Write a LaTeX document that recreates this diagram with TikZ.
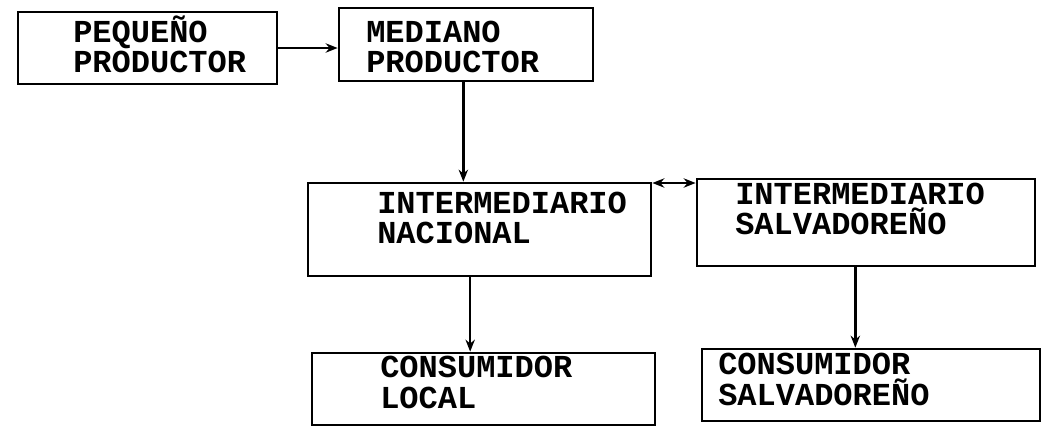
\documentclass[tikz,border=0pt]{standalone}
\usepackage{fontspec}
\setmonofont{Liberation Mono}
\usetikzlibrary{fit,arrows.meta}
\begin{document}
\begin{tikzpicture}[x=0.75pt,y=-0.75pt,
  box/.style={draw,line width=2pt,inner sep=0pt,rectangle},
  lbl/.style={anchor=base west,inner sep=0pt,align=left},
  fs/.style={font=\ttfamily\bfseries\fontsize{24}{#1}\selectfont},
  arr/.style={line width=1.8pt,-{Stealth[length=9pt,width=7pt]}},
  darr/.style={line width=1.8pt,{Stealth[length=9pt,width=7pt]}-{Stealth[length=9pt,width=7pt]}}]
\useasboundingbox (0,0) rectangle (1051,436);
% boxes
\node[box,fit={(18,12)(277,84)}] (b1) {};
\node[box,fit={(339,8)(593,81)}] (b2) {};
\node[box,fit={(308,183)(651,276)}] (b3) {};
\node[box,fit={(697,179)(1035,266)}] (b4) {};
\node[box,fit={(312,353)(655,425)}] (b5) {};
\node[box,fit={(702,349)(1040,421)}] (b6) {};
% labels (anchor = baseline of the last line)
\node[lbl,fs=22.5pt] (t1) at (73,72) {PEQUEÑO\\PRODUCTOR};
\node[lbl,fs=22.5pt] (t2) at (366,72) {MEDIANO\\PRODUCTOR};
\node[lbl,fs=22.5pt] (t3) at (377,243) {INTERMEDIARIO\\NACIONAL};
\node[lbl,fs=22.5pt] (t4) at (735,234) {INTERMEDIARIO\\SALVADOREÑO};
\node[lbl,fs=23.25pt] (t5) at (380,408) {CONSUMIDOR\\LOCAL};
\node[lbl,fs=23.25pt] (t6) at (718,405) {CONSUMIDOR\\SALVADOREÑO};
% connectors
\draw[arr] (b1.east) -- (b1.east -| b2.west);
\draw[arr] ([xshift=-2pt]b2.south) -- ([xshift=-2pt]b2.south |- b3.north);
\draw[darr] ([yshift=-1pt]b3.north east) -- ([yshift=-1pt]b3.north east -| b4.west);
\draw[arr] ([xshift=-7pt]b3.south) -- ([xshift=-7pt]b3.south |- b5.north);
\draw[arr] ([xshift=-8pt]b4.south) -- ([xshift=-8pt]b4.south |- b6.north);
\end{tikzpicture}
\end{document}
